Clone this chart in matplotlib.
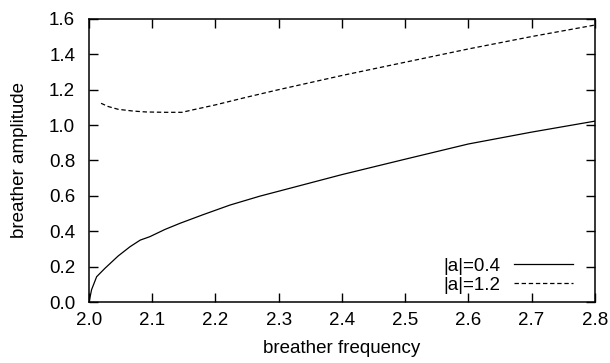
import numpy as np
import matplotlib
matplotlib.use("Agg")
import matplotlib.pyplot as plt

# breather amplitude vs frequency
freq_04 = [2.0, 2.004, 2.012, 2.025, 2.046, 2.065, 2.081, 2.096, 2.12, 2.144,
           2.18, 2.223, 2.27, 2.318, 2.4, 2.5, 2.6, 2.7, 2.8]
amp_04 = [0.0, 0.07, 0.143, 0.19, 0.26, 0.313, 0.35, 0.369, 0.41, 0.445,
          0.493, 0.548, 0.598, 0.643, 0.72, 0.807, 0.893, 0.96, 1.022]

freq_12 = [2.019, 2.03, 2.046, 2.07, 2.09, 2.12, 2.147, 2.168, 2.2, 2.25,
           2.3, 2.4, 2.5, 2.6, 2.7, 2.8]
amp_12 = [1.123, 1.105, 1.089, 1.079, 1.074, 1.072, 1.072, 1.089, 1.114, 1.158,
          1.20, 1.28, 1.355, 1.43, 1.50, 1.565]

labels = ["|a|=0.4", "|a|=1.2"]
xticks = np.arange(2.0, 2.81, 0.1)
yticks = np.arange(0.0, 1.61, 0.2)

plt.rcParams.update({
    "font.family": ["Liberation Sans", "DejaVu Sans"],
    "font.size": 13.5,
})

fig = plt.figure(figsize=(6.1, 3.63), dpi=100)
ax = fig.add_axes([0.146, 0.168, 0.829, 0.780])

ax.plot(freq_04, amp_04, color="k", lw=0.9, label=labels[0])
ax.plot(freq_12, amp_12, color="k", lw=0.9, dashes=(3.5, 2.2), label=labels[1])

ax.set_xlim(2.0, 2.8)
ax.set_ylim(0.0, 1.6)
ax.set_xticks(xticks)
ax.set_yticks(yticks)
ax.set_xticklabels([f"{v:.1f}" for v in xticks])
ax.set_yticklabels([f"{v:.1f}" for v in yticks])
ax.tick_params(direction="in", length=6.5, width=1, top=True, right=True)
ax.tick_params(axis="x", pad=7)
ax.tick_params(axis="y", pad=10)
for s in ax.spines.values():
    s.set_linewidth(1.1)

ax.set_xlabel("breather frequency", labelpad=8)
ax.set_ylabel("breather amplitude", labelpad=15)

ax.legend(loc="lower right", frameon=False, markerfirst=False,
          handlelength=3.15, handletextpad=0.7, labelspacing=0.1,
          borderaxespad=0.05, bbox_to_anchor=(0.973, 0.0))

fig.savefig("out.png", dpi=100)
